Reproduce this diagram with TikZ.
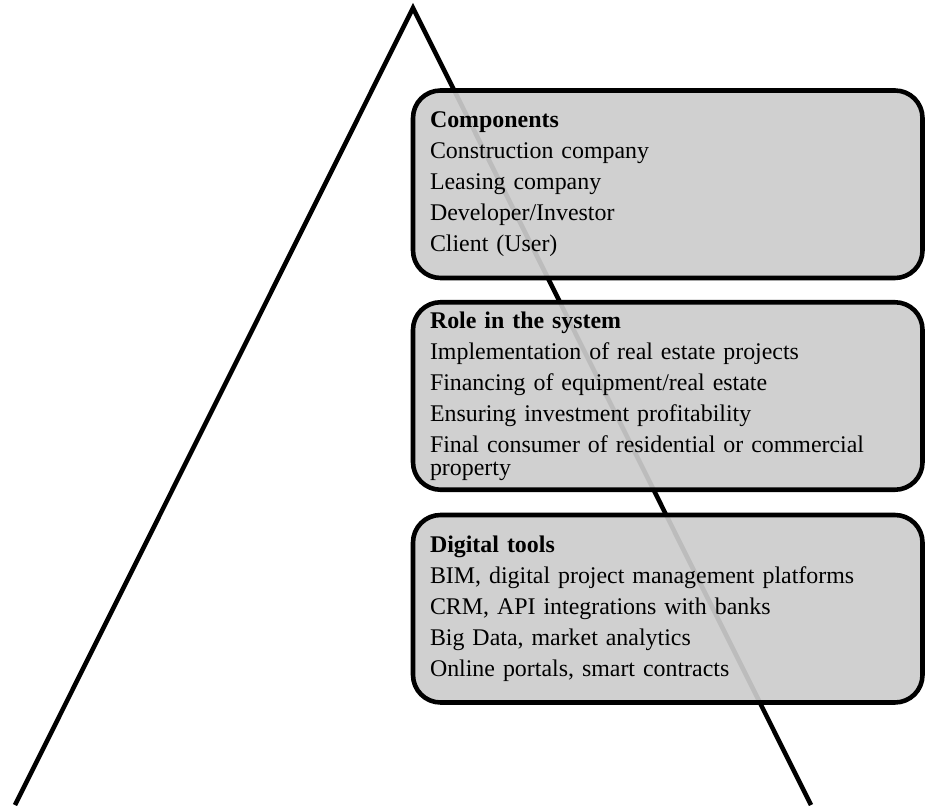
\documentclass[tikz,border=0pt]{standalone}
\usepackage{fontspec}
\setmainfont{Liberation Serif}
\tikzset{
  panel/.style={draw, line width=2.6pt, rounded corners=0.55cm, fill=black!20, fill opacity=0.92, text opacity=1,
    text width=9.51cm, inner xsep=0.34cm, inner ysep=0pt, minimum height=3.75cm, align=left,
    font=\fontsize{13.6}{13.1}\selectfont}
}
\begin{document}
\begin{tikzpicture}
    \useasboundingbox (0,0) rectangle (18.5,16.1);
    \coordinate (apex) at (8.26,15.94);
    \coordinate (baseL) at (0.30,0);
    \coordinate (baseR) at (16.22,0);
    \draw[line width=2.6pt] (baseL)--(apex)--(baseR);
    \node[panel] (comp) at (13.355,12.415) {\textbf{Components}\\[4.5pt] Construction company\\[4.5pt] Leasing company\\[4.5pt] Developer/Investor\\[4.5pt] Client (User)};
    \node[panel] (role) at (13.355,8.18) {\textbf{Role in the system}\\[4.5pt] Implementation of real estate projects\\[4.5pt] Financing of equipment/real estate\\[4.5pt] Ensuring investment profitability\\[4.5pt] Final consumer of residential or commercial property};
    \node[panel] (tools) at (13.355,3.925) {\textbf{Digital tools}\\[4.5pt] BIM, digital project management platforms\\[4.5pt] CRM, API integrations with banks\\[4.5pt] Big Data, market analytics\\[4.5pt] Online portals, smart contracts};
    \end{tikzpicture}
\end{document}
